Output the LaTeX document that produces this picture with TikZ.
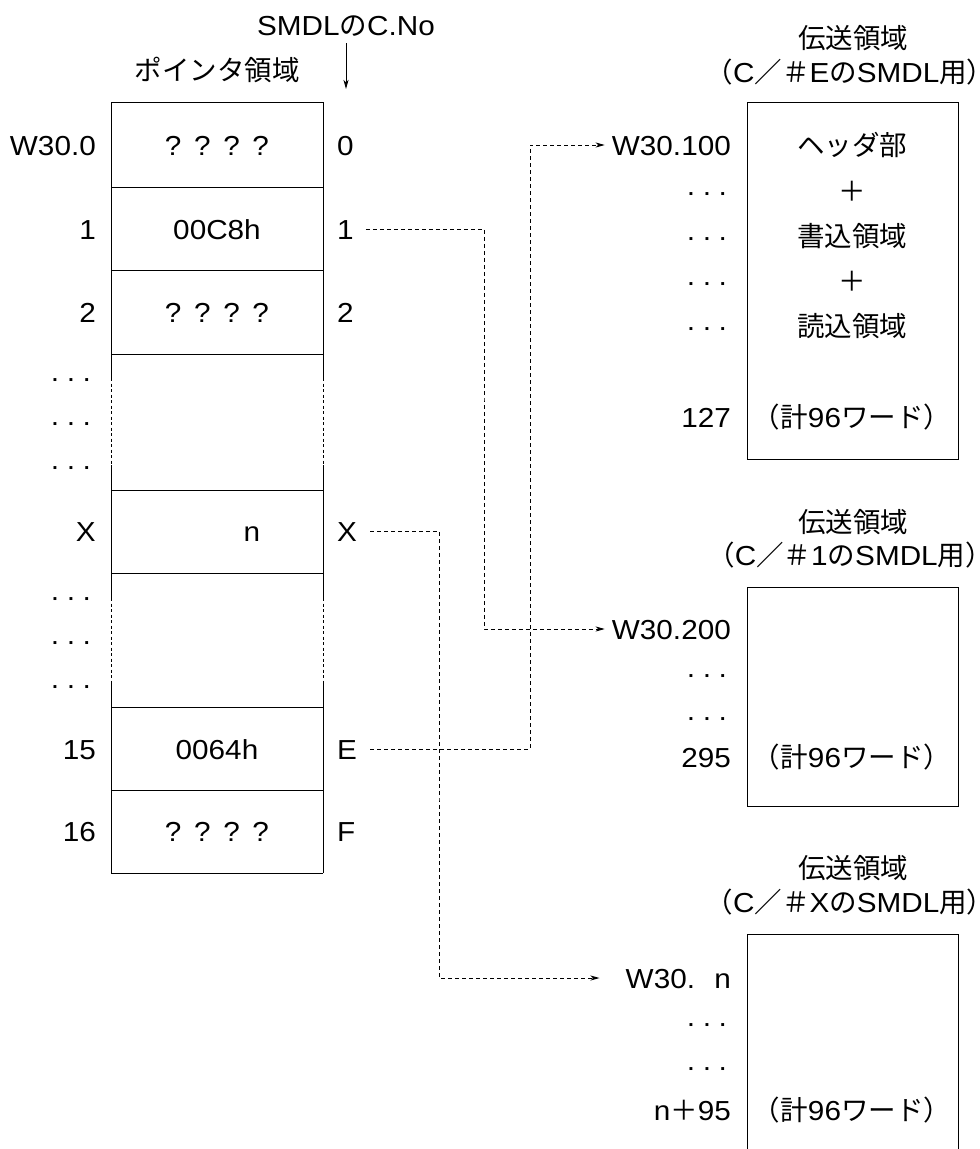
\documentclass[tikz,border=0pt]{standalone}
\usepackage{fontspec}
\setmainfont{Liberation Sans}[FakeStretch=1.08]
\newfontfamily\jp{Noto Sans CJK JP}
\usetikzlibrary{arrows.meta}
\newcommand{\mydots}{·\hspace{6pt}·\hspace{6pt}·}
\newcommand{\qqqq}{?\hspace{0.46em}?\hspace{0.46em}?\hspace{0.46em}?}
\begin{document}
\begin{tikzpicture}[x=1pt,y=-1pt,
  lab/.style={inner sep=0pt, text height=20pt, text depth=0pt, font=\fontsize{27.5}{33}\selectfont},
  lft/.style={lab,anchor=east},
  rgt/.style={lab,anchor=west},
  frame/.style={line width=1pt},
  gapline/.style={line width=0.9pt, dash pattern=on 3pt off 2.5pt},
  conn/.style={line width=1pt, dash pattern=on 4pt off 3pt},
  tip/.style={-{Stealth[length=9pt,width=5pt,inset=2.5pt]}},
]
\useasboundingbox (0,0) rectangle (980,1149);

% ---------- headers ----------
\node[lab] (cno) at (346,25) {SMDL{\jp の}C.No};
\coordinate (cnoend) at (346,89);
\draw[line width=0.9pt,tip,shorten <=8pt] (cno.south) -- (cnoend);
\node[lab] (ptitle) at (217,70) {\jp ポインタ領域};

% ---------- pointer table ----------
\foreach \y in {102,187,270,354,490,573,707,790,873}
  \draw[frame] (111,\y) -- (323,\y);
\foreach \x in {111,323}{
  \draw[frame] (\x,102) -- (\x,378);
  \draw[gapline] (\x,378) -- (\x,465);
  \draw[frame] (\x,465) -- (\x,598);
  \draw[gapline] (\x,598) -- (\x,683);
  \draw[frame] (\x,683) -- (\x,873);
}

% left labels
\node[lft] (l0) at (96,145) {W30.0};
\node[lft] (l1) at (96,229) {1};
\node[lft] (l2) at (96,312) {2};
\node[lft] (ld1) at (92,377) {\mydots};
\node[lft] (ld2) at (92,421) {\mydots};
\node[lft] (ld3) at (92,465) {\mydots};
\node[lft] (lX) at (96,531) {X};
\node[lft] (ld4) at (92,596) {\mydots};
\node[lft] (ld5) at (92,640) {\mydots};
\node[lft] (ld6) at (92,684) {\mydots};
\node[lft] (l15) at (96,749) {15};
\node[lft] (l16) at (96,831) {16};

% contents
\node[lab] (c0) at (217,145) {\qqqq};
\node[lab] (c1) at (217,229) {00C8h};
\node[lab] (c2) at (217,312) {\qqqq};
\node[lab] (cX) at (252,531) {n};
\node[lab] (c15) at (217,749) {0064h};
\node[lab] (c16) at (217,831) {\qqqq};

% right labels (C.No)
\node[rgt] (r0) at (337,145) {0};
\node[rgt] (r1) at (337,229) {1};
\node[rgt] (r2) at (337,312) {2};
\node[rgt] (rX) at (337,531) {X};
\node[rgt] (rE) at (337,749) {E};
\node[rgt] (rF) at (337,831) {F};

% ---------- transfer area 1 (C/#E) ----------
\node[lab] (t1a) at (853,38) {\jp 伝送領域};
\node[lab] (t1b) at (850,72) {{\jp （}C{\jp ／＃}E{\jp の}SMDL{\jp 用）}};
\draw[frame] (747,102) rectangle (958,459);
\node[lft] (w100) at (731,145) {W30.100};
\node[lft] (b1d1) at (728,191) {\mydots};
\node[lft] (b1d2) at (728,236) {\mydots};
\node[lft] (b1d3) at (728,281) {\mydots};
\node[lft] (b1d4) at (728,326) {\mydots};
\node[lft] (a127) at (731,417) {127};
\node[lab] (h1) at (852,145) {\jp ヘッダ部};
\node[lab] (p1) at (852,191) {\jp ＋};
\node[lab] (h2) at (852,236) {\jp 書込領域};
\node[lab] (p2) at (852,281) {\jp ＋};
\node[lab] (h3) at (852,326) {\jp 読込領域};
\node[lab] (k1) at (852,417) {{\jp （計}96{\jp ワード）}};

% ---------- transfer area 2 (C/#1) ----------
\node[lab] (t2a) at (853,522) {\jp 伝送領域};
\node[lab] (t2b) at (850,555) {{\jp （}C{\jp ／＃}1{\jp の}SMDL{\jp 用）}};
\draw[frame] (747,587) rectangle (958,806);
\node[lft] (w200) at (731,629) {W30.200};
\node[lft] (b2d1) at (728,673) {\mydots};
\node[lft] (b2d2) at (728,716) {\mydots};
\node[lft] (a295) at (731,757) {295};
\node[lab] (k2) at (852,757) {{\jp （計}96{\jp ワード）}};

% ---------- transfer area 3 (C/#X) ----------
\node[lab] (t3a) at (853,868) {\jp 伝送領域};
\node[lab] (t3b) at (850,902) {{\jp （}C{\jp ／＃}X{\jp の}SMDL{\jp 用）}};
\draw[frame] (747,1149) -- (747,934) -- (958,934) -- (958,1149);
\node[lft] (wn) at (731,978) {W30.\hspace{0.7em}n};
\node[lft] (b3d1) at (728,1022) {\mydots};
\node[lft] (b3d2) at (728,1066) {\mydots};
\node[lft] (an95) at (731,1110) {n{\jp ＋}95};
\node[lab] (k3) at (852,1110) {{\jp （計}96{\jp ワード）}};

% ---------- connectors ----------
\coordinate (j1) at (484,400);
\coordinate (jE) at (530,400);
\coordinate (jX) at (439,800);
\draw[conn,tip,shorten <=12pt,shorten >=7pt] (r1.east) -| (j1) |- (w200.west);
\draw[conn,tip,shorten <=13pt,shorten >=7pt] (rE.east) -| (jE) |- (w100.west);
\draw[conn,tip,shorten <=13pt,shorten >=26pt] (rX.east) -| (jX) |- (wn.west);
\end{tikzpicture}
\end{document}
